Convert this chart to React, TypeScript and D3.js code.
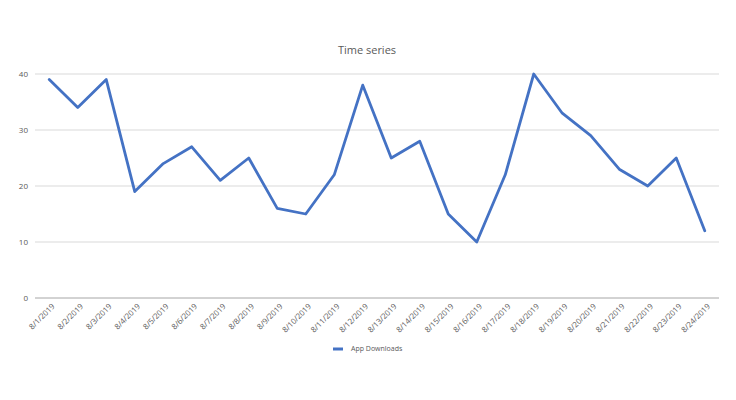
import React, { useEffect, useRef } from "react";
import * as d3 from "d3";

const dates = [
  "8/1/2019", "8/2/2019", "8/3/2019", "8/4/2019", "8/5/2019", "8/6/2019",
  "8/7/2019", "8/8/2019", "8/9/2019", "8/10/2019", "8/11/2019", "8/12/2019",
  "8/13/2019", "8/14/2019", "8/15/2019", "8/16/2019", "8/17/2019", "8/18/2019",
  "8/19/2019", "8/20/2019", "8/21/2019", "8/22/2019", "8/23/2019", "8/24/2019",
];
const downloads = [
  39, 34, 39, 19, 24, 27, 21, 25, 16, 15, 22, 38,
  25, 28, 15, 10, 22, 40, 33, 29, 23, 20, 25, 12,
];
const yTicks = [0, 10, 20, 30, 40];
const seriesName = "App Downloads";
const title = "Time series";

function App() {
  const ref = useRef<SVGSVGElement>(null);

  useEffect(() => {
    const svg = d3.select(ref.current);
    svg.selectAll("*").remove();

    const width = 736;
    const height = 400;
    const font = "'Open Sans', 'Noto Sans', sans-serif";
    const textColor = "#595959";

    const x = d3.scaleBand().domain(dates).range([35, 719]);
    const y = d3.scaleLinear().domain([0, 40]).range([298, 74]);

    svg.attr("width", width).attr("height", height);

    svg.append("rect").attr("width", width).attr("height", height).attr("fill", "#fff");

    // title
    svg.append("text")
      .attr("x", 367)
      .attr("y", 54)
      .attr("text-anchor", "middle")
      .attr("font-family", font)
      .attr("font-size", 11)
      .attr("fill", textColor)
      .text(title);

    // gridlines
    svg.append("g")
      .selectAll("line")
      .data(yTicks.filter(d => d !== 0))
      .join("line")
      .attr("x1", 35)
      .attr("x2", 719)
      .attr("y1", d => y(d))
      .attr("y2", d => y(d))
      .attr("stroke", "#d9d9d9")
      .attr("stroke-width", 1);

    // y labels
    svg.append("g")
      .selectAll("text")
      .data(yTicks)
      .join("text")
      .attr("x", 28)
      .attr("y", d => y(d))
      .attr("dy", "0.35em")
      .attr("text-anchor", "end")
      .attr("font-family", font)
      .attr("font-size", 8)
      .attr("fill", textColor)
      .text(d => d);

    // x axis line
    svg.append("line")
      .attr("x1", 35)
      .attr("x2", 719)
      .attr("y1", y(0))
      .attr("y2", y(0))
      .attr("stroke", "#a6a6a6")
      .attr("stroke-width", 1);

    // x labels
    svg.append("g")
      .selectAll("text")
      .data(dates)
      .join("text")
      .attr("transform", d => {
        const cx = (x(d) as number) + x.bandwidth() / 2 + 4;
        return "translate(" + cx + ",305) rotate(-45)";
      })
      .attr("text-anchor", "end")
      .attr("dy", "0.35em")
      .attr("font-family", font)
      .attr("font-size", 7.8)
      .attr("fill", textColor)
      .text(d => d);

    // line
    const line = d3.line<number>()
      .x((d, i) => (x(dates[i]) as number) + x.bandwidth() / 2)
      .y(d => y(d));

    svg.append("path")
      .datum(downloads)
      .attr("d", line)
      .attr("fill", "none")
      .attr("stroke", "#4472c4")
      .attr("stroke-width", 2.8)
      .attr("stroke-linejoin", "round")
      .attr("stroke-linecap", "round");

    // legend
    const legend = svg.append("g").attr("transform", "translate(333,349)");
    legend.append("line")
      .attr("x1", 0)
      .attr("x2", 10)
      .attr("y1", 0)
      .attr("y2", 0)
      .attr("stroke", "#4472c4")
      .attr("stroke-width", 3);
    legend.append("text")
      .attr("x", 18)
      .attr("y", 0)
      .attr("dy", "0.35em")
      .attr("font-family", font)
      .attr("font-size", 7)
      .attr("fill", textColor)
      .text(seriesName);
  });

  return <svg ref={ref} style={{ display: "block", margin: "-8px" }} />;
}

export default App;
